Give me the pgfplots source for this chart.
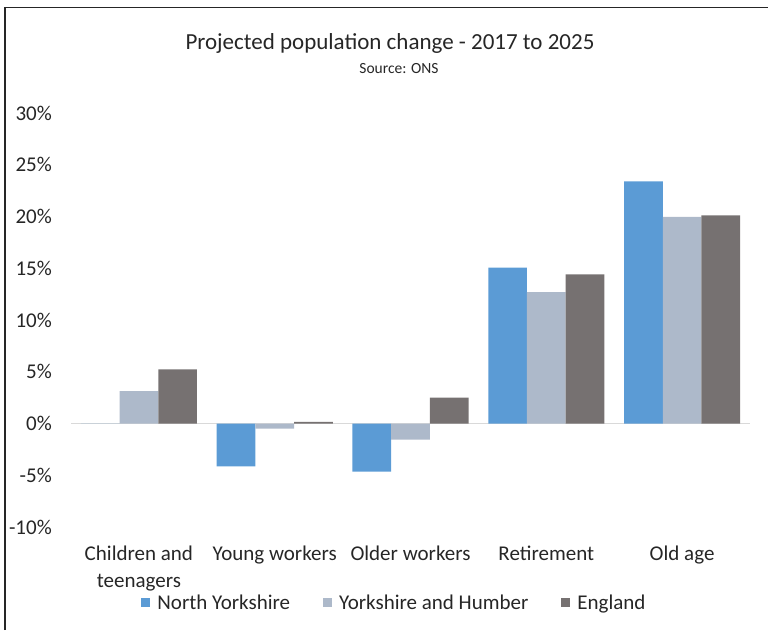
\documentclass[border=0pt]{standalone}
\usepackage{pgfplots}
\pgfplotsset{compat=1.18}
\usepackage{fontspec}
\setmainfont{Carlito}
\definecolor{cNY}{HTML}{5B9BD5}
\definecolor{cYH}{HTML}{ADB9CA}
\definecolor{cE}{HTML}{767171}
\definecolor{txt}{HTML}{262626}
\definecolor{zl}{HTML}{D9D9D9}
\begin{document}
\begin{tikzpicture}
\path[use as bounding box] (0pt,-630pt) rectangle (768pt,0pt);
\draw[line width=1.6pt, txt] (5pt,-630pt) -- (5pt,-7.5pt) -- (768pt,-7.5pt);
\node[txt, font=\fontsize{23}{27}\selectfont, anchor=base] at (390pt,-49pt) {Projected population change - 2017 to 2025};
\node[txt, font=\fontsize{15.5}{18}\selectfont, anchor=base] at (399pt,-73pt) {Source: ONS};
\begin{axis}[
  at={(71pt,-527pt)}, anchor=south west,
  scale only axis, width=679pt, height=414pt,
  xmin=-0.5, xmax=4.5, ymin=-10, ymax=30,
  ybar=0pt, bar width=38.7pt,
  axis line style={draw=none},
  tick style={draw=none},
  major tick length=0pt,
  xtick={0,1,2,3,4},
  xticklabels={{Children and\\teenagers},{Young workers},{Older workers},{Retirement},{Old age}},
  xticklabel style={align=center, font=\fontsize{21}{27}\selectfont, text=txt, inner sep=0pt, yshift=-19pt},
  ytick={-10,-5,0,5,10,15,20,25,30},
  yticklabel={\pgfmathprintnumber[assume math mode=true]{\tick}\%},
  yticklabel style={anchor=east, font=\fontsize{21}{25}\selectfont, text=txt, inner sep=0pt, xshift=-19pt},
  extra y ticks={0},
  extra y tick labels={},
  extra y tick style={grid=major, major grid style={zl, line width=1.5pt}},
  legend columns=3,
  legend style={at={(rel axis cs:0.4764,-0.183)}, anchor=center, draw=none, fill=none,
    font=\fontsize{21}{25}\selectfont, text=txt,
    /tikz/every odd column/.append style={column sep=5pt},
    /tikz/every even column/.append style={column sep=31pt}},
  legend image code/.code={\fill[#1,draw=none] (0pt,-4.5pt) rectangle (9pt,4.5pt);},
]
\addplot[fill=cNY, draw=none] coordinates {(0,0) (1,-4.14) (2,-4.65) (3,15.05) (4,23.4)};
\addplot[fill=cYH, draw=none] coordinates {(0,3.14) (1,-0.5) (2,-1.55) (3,12.7) (4,19.97)};
\addplot[fill=cE, draw=none] coordinates {(0,5.24) (1,0.15) (2,2.5) (3,14.4) (4,20.1)};
\legend{North Yorkshire, Yorkshire and Humber, England}
\end{axis}
\end{tikzpicture}
\end{document}
